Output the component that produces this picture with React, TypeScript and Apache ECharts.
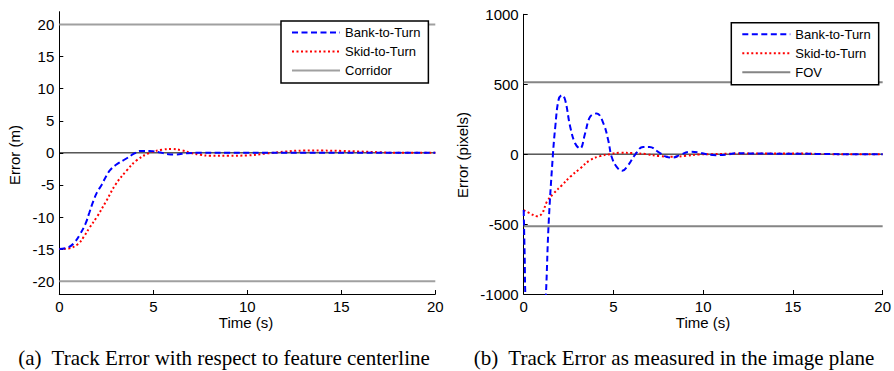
import React, { useEffect, useRef } from "react";
import * as echarts from "echarts";

const SANS = "'Liberation Sans', Arial, Helvetica, sans-serif";
const SERIF = "'Liberation Serif', 'Times New Roman', serif";

// ---- axis ticks ----
const xTicks = [0, 5, 10, 15, 20];
const yTicksA = [-20, -15, -10, -5, 0, 5, 10, 15, 20];
const yTicksB = [-1000, -500, 0, 500, 1000];

// ---- (a) Track error w.r.t. feature centerline (m) ----
const tA_btt = [0, 0.5, 0.8, 1.1, 1.4, 1.6, 1.8, 2.0, 2.25, 2.5, 2.7, 3.0, 3.5, 4.0, 4.3, 4.8, 5.3, 5.8, 6.2, 6.8, 7.5, 9, 12, 15, 20];
const vA_btt = [-15, -14.7, -14, -12.7, -11, -9.3, -7.6, -6.2, -5, -3.6, -2.7, -1.9, -1.0, -0.1, 0.3, 0.3, 0.1, -0.2, -0.25, -0.05, 0, 0, 0, 0, 0];
const tA_stt = [0, 0.5, 1.0, 1.3, 1.6, 2.0, 2.5, 3.0, 3.6, 4.1, 4.8, 5.5, 6.0, 6.5, 7.0, 7.5, 8.0, 9.0, 10.0, 11.0, 12.0, 13.0, 14.0, 15.0, 16.0, 17.0, 18.0, 20.0];
const vA_stt = [-15, -14.9, -14.2, -13.1, -11.7, -10, -7.5, -4.9, -2.7, -1.2, 0, 0.5, 0.6, 0.4, 0, -0.3, -0.45, -0.45, -0.4, -0.1, 0.2, 0.35, 0.35, 0.3, 0.2, 0.1, 0, 0];
const corridor = 20;

// ---- (b) Track error in the image plane (pixels) ----
const tB_btt = [0, 0.05, 0.12, 0.4, 0.7, 1.0, 1.24, 1.39, 1.63, 1.76, 1.94, 2.13, 2.31, 2.59, 2.87, 3.14, 3.42, 3.7, 4.07, 4.44, 4.71, 4.9, 5.18, 5.49, 5.82, 6.19, 6.65, 7.02, 7.49, 7.95, 8.3, 8.69, 9.24, 9.7, 10.17, 10.7, 11.27, 11.8, 12.5, 13.5, 14.5, 15.5, 16.5, 18, 20];
const vB_btt = [-400, -700, -1100, -1600, -1800, -1600, -1000, -496, 0, 196, 387, 422, 387, 196, 76, 40, 148, 267, 291, 220, 100, -19, -91, -119, -79, -7, 52, 52, 17, -19, -24, -7, 17, 14, 0, -7, -5, 7, 5, 4, 3, 3, 1, 0, 0];
const tB_stt = [0, 0.37, 0.74, 1.02, 1.29, 1.66, 2.13, 2.59, 3.14, 3.7, 4.25, 4.8, 5.36, 6.1, 6.84, 7.58, 8.3, 9.06, 9.8, 10.5, 11.5, 12.5, 13.5, 14.5, 15.5, 16.5, 18, 20];
const vB_stt = [-400, -425, -444, -425, -341, -282, -222, -162, -103, -43, -14, 0, 10, 7, 0, -14, -19, -12, -2, 0, 3, 5, 5, 5, 5, 1, 0, 0];
const fov = 515;

const pairs = (t: number[], v: number[]) => t.map((x, i) => [x, v[i]]);

const BLUE = "#0000ff";
const RED = "#ff0000";

export default function App() {
  const ref = useRef<HTMLDivElement>(null);
  useEffect(() => {
    if (!ref.current) return;
    const chart = echarts.init(ref.current, undefined, { renderer: "svg" });

    const xAxisBase = (gridIndex: number) => ({
      type: "value",
      gridIndex,
      min: xTicks[0],
      max: xTicks[xTicks.length - 1],
      interval: 5,
      axisLine: { onZero: false, lineStyle: { color: "#000", width: 1 } },
      axisTick: { inside: true, length: 4, lineStyle: { color: "#000" } },
      axisLabel: { margin: 5, fontSize: 15, color: "#000", fontFamily: SANS },
      splitLine: { show: false },
    });

    const lineSeries = (name: string, xi: number, data: any, color: string, width: number, type: any, z = 3, smooth: any = false) => ({
      type: "line",
      name,
      xAxisIndex: xi,
      yAxisIndex: xi,
      data,
      symbol: "none",
      smooth,
      z,
      silent: true,
      lineStyle: { color, width, type },
      itemStyle: { color },
    });

    const legendBase = (left: number, top: number, data: string[]) => ({
      left,
      top,
      orient: "vertical",
      data,
      padding: [5, 8, 6, 10],
      itemGap: 6,
      itemWidth: 48,
      itemHeight: 14,
      borderColor: "#000",
      borderWidth: 1.5,
      backgroundColor: "#fff",
      itemStyle: { opacity: 0 },
      textStyle: { fontSize: 13, color: "#000", fontFamily: SANS },
      selectedMode: false,
    });

    chart.setOption({
      animation: false,
      backgroundColor: "#fff",
      grid: [
        { left: 59.3, top: 11.7, width: 376, height: 282.3 },
        { left: 523.7, top: 14.3, width: 360.6, height: 279.7 },
      ],
      xAxis: [xAxisBase(0), xAxisBase(1)],
      yAxis: [
        {
          type: "value",
          gridIndex: 0,
          min: -22,
          max: 22,
          axisLine: { show: true, onZero: false, lineStyle: { color: "#000", width: 1 } },
          axisTick: { show: true, inside: true, length: 4, customValues: yTicksA, lineStyle: { color: "#000" } },
          axisLabel: { margin: 5, fontSize: 15, color: "#000", fontFamily: SANS, customValues: yTicksA },
          splitLine: { show: false },
        },
        {
          type: "value",
          gridIndex: 1,
          min: yTicksB[0],
          max: yTicksB[yTicksB.length - 1],
          interval: 500,
          axisLine: { show: true, onZero: false, lineStyle: { color: "#000", width: 1 } },
          axisTick: { show: true, inside: true, length: 4, lineStyle: { color: "#000" } },
          axisLabel: { margin: 5, fontSize: 15, color: "#000", fontFamily: SANS, formatter: (v: number) => String(v) },
          splitLine: { show: false },
        },
      ],
      legend: [
        legendBase(281, 21, ["Bank-to-Turn", "Skid-to-Turn", "Corridor"]),
        legendBase(731.3, 22.7, ["Bank-to-Turn", "Skid-to-Turn", "FOV"]),
      ],
      series: [
        lineSeries("zeroA", 0, [[0, 0], [20, 0]], "#000", 1, "solid", 1),
        lineSeries("Corridor", 0, [[0, corridor], [20, corridor]], "#a0a0a0", 2, "solid", 2),
        lineSeries("Corridor", 0, [[0, -corridor], [20, -corridor]], "#a0a0a0", 2, "solid", 2),
        lineSeries("Bank-to-Turn", 0, pairs(tA_btt, vA_btt), BLUE, 2, [6, 3.5], 4, 0.4),
        lineSeries("Skid-to-Turn", 0, pairs(tA_stt, vA_stt), RED, 2, [2, 2.5], 3, 0.4),
        lineSeries("zeroB", 1, [[0, 0], [20, 0]], "#000", 1, "solid", 1),
        lineSeries("FOV", 1, [[0, fov], [20, fov]], "#858585", 2, "solid", 2),
        lineSeries("FOV", 1, [[0, -fov], [20, -fov]], "#858585", 2, "solid", 2),
        lineSeries("Bank-to-Turn", 1, pairs(tB_btt, vB_btt), BLUE, 2, [6, 3.5], 4, 0.4),
        lineSeries("Skid-to-Turn", 1, pairs(tB_stt, vB_stt), RED, 2, [2, 2.5], 3, 0.4),
      ],
      graphic: [
        { type: "text", x: 14, y: 155, rotation: Math.PI / 2, style: { text: "Error (m)", fontSize: 15, fontFamily: SANS, fill: "#000", align: "center", verticalAlign: "middle" } },
        { type: "text", x: 462.5, y: 155, rotation: Math.PI / 2, style: { text: "Error (pixels)", fontSize: 15, fontFamily: SANS, fill: "#000", align: "center", verticalAlign: "middle" } },
        { type: "text", x: 246, y: 322, style: { text: "Time (s)", fontSize: 15, fontFamily: SANS, fill: "#000", align: "center", verticalAlign: "middle" } },
        { type: "text", x: 703, y: 322, style: { text: "Time (s)", fontSize: 15, fontFamily: SANS, fill: "#000", align: "center", verticalAlign: "middle" } },
        { type: "text", x: 224, y: 357.5, style: { text: "(a)\u00a0 Track Error with respect to feature centerline", fontSize: 21, fontFamily: SERIF, fill: "#000", align: "center", verticalAlign: "middle" } },
        { type: "text", x: 674, y: 357.5, style: { text: "(b)\u00a0 Track Error as measured in the image plane", fontSize: 21, fontFamily: SERIF, fill: "#000", align: "center", verticalAlign: "middle" } },
      ],
    });
    return () => chart.dispose();
  }, []);
  return <div ref={ref} style={{ position: "absolute", left: 0, top: 0, width: 894, height: 371 }} />;
}
